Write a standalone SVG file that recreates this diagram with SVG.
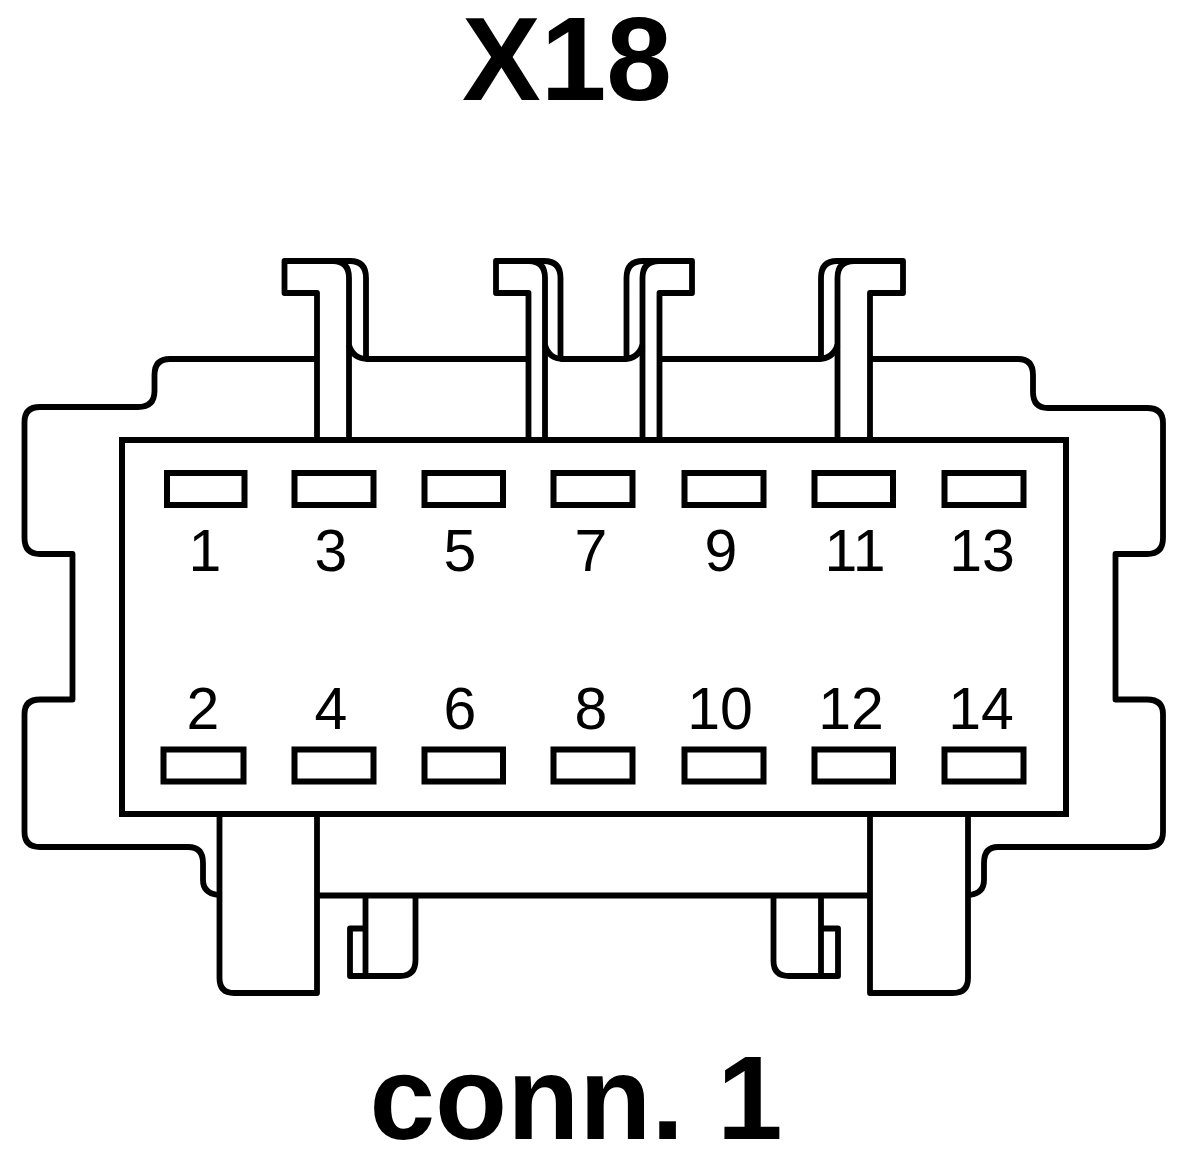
<svg xmlns="http://www.w3.org/2000/svg" width="1200" height="1162" viewBox="0 0 1200 1162">
<style>
.l{fill:none;stroke:#000;stroke-width:5.8;stroke-linejoin:round}
.b{fill:none;stroke:#000;stroke-width:6;stroke-linejoin:miter}
.p{fill:none;stroke:#000;stroke-width:6}
.n{font-family:"Liberation Sans",Arial,sans-serif;font-size:59px;fill:#000;text-anchor:middle}
.t{font-family:"Liberation Sans",Arial,sans-serif;font-size:118px;font-weight:bold;fill:#000;text-anchor:middle}
</style>
<rect width="1200" height="1162" fill="#fff"/>
<g id="shell">
<path class="l" d="M317 359H170Q154.500 359 154.500 375V391Q154.500 407 138 407H40Q24.500 407 24.500 422V538Q24.500 554 40 554H72.500V699.500H40Q24.500 699.500 24.500 714V832Q24.500 847 40 847H188Q203 847 203 863V880Q203 893 218 895"/>
<path class="l" d="M870 359H1018Q1033 359 1033 375V392Q1033 408 1048 408H1147Q1163 408 1163 423V538Q1163 554 1147 554H1115.500V699.500H1147Q1163 699.500 1163 714V832Q1163 847 1147 847H998Q984 847 984 863V880Q984 893 970 895"/>
<path class="l" d="M366 359H528.500M560.500 359H626.500M659.500 359H821"/>
<path class="l" d="M317 895.500H870"/>
</g>
<g id="tab-1">
<path class="l" d="M317 437V293H284.500V261H333Q349 261 349 278V437"/>
<path class="l" d="M333 261H350Q366 261 366 278V359M349 345Q353 359 368 359"/>
</g>
<g id="tab-2">
<path class="l" d="M528.500 437V293H496V261H529Q545 261 545 278V437"/>
<path class="l" d="M529 261H544Q560.500 261 560.500 278V359M545 345Q549 359 563 359"/>
</g>
<g id="tab-3">
<path class="l" d="M659.500 437V293H692V261H659Q642.500 261 642.500 278V437"/>
<path class="l" d="M659 261H643Q626.500 261 626.500 278V359M642.500 345Q638 359 624 359"/>
</g>
<g id="tab-4">
<path class="l" d="M870 437V293H903V261H854Q837.500 261 837.500 278V437"/>
<path class="l" d="M854 261H837Q821 261 821 278V359M837.500 345Q833 359 818 359"/>
</g>
<g id="housing">
<rect class="b" x="122" y="440" width="944" height="374"/>
</g>
<g id="pins">
<rect class="p" x="167" y="473" width="77.500" height="32"/>
<rect class="p" x="294.500" y="473" width="79" height="32"/>
<rect class="p" x="424.500" y="473" width="78.500" height="32"/>
<rect class="p" x="553.500" y="473" width="79" height="32"/>
<rect class="p" x="684.500" y="473" width="79" height="32"/>
<rect class="p" x="814.500" y="473" width="78.500" height="32"/>
<rect class="p" x="944.500" y="473" width="79" height="32"/>
<rect class="p" x="163.500" y="749.500" width="80" height="32"/>
<rect class="p" x="294.500" y="749.500" width="79" height="32"/>
<rect class="p" x="424.500" y="749.500" width="78.500" height="32"/>
<rect class="p" x="553.500" y="749.500" width="79" height="32"/>
<rect class="p" x="684.500" y="749.500" width="79" height="32"/>
<rect class="p" x="814.500" y="749.500" width="78.500" height="32"/>
<rect class="p" x="944.500" y="749.500" width="79" height="32"/>
</g>
<g id="latch-left">
<path class="l" d="M219.500 814V978Q219.500 993 234 993H317V814"/>
<path class="l" d="M365.500 895.500V976M415.500 895.500V960Q415.500 976 400 976H350V928.500H365.500"/>
</g>
<g id="latch-right">
<path class="l" d="M968 814V978Q968 993 953 993H870V814"/>
<path class="l" d="M821 895.500V976M773.500 895.500V961Q773.500 976 789 976H838V928.500H821"/>
</g>
<g id="labels">
<text class="t" x="567" y="100">X18</text>
<text class="t" x="576" y="1139">conn. 1</text>
<text class="n" x="205" y="571">1</text>
<text class="n" x="331" y="571">3</text>
<text class="n" x="460" y="571">5</text>
<text class="n" x="591" y="571">7</text>
<text class="n" x="721" y="571">9</text>
<text class="n" x="855" y="571">11</text>
<text class="n" x="982" y="571">13</text>
<text class="n" x="203" y="729">2</text>
<text class="n" x="331" y="729">4</text>
<text class="n" x="460" y="729">6</text>
<text class="n" x="591" y="729">8</text>
<text class="n" x="720" y="729">10</text>
<text class="n" x="851" y="729">12</text>
<text class="n" x="981" y="729">14</text>
</g>
</svg>
